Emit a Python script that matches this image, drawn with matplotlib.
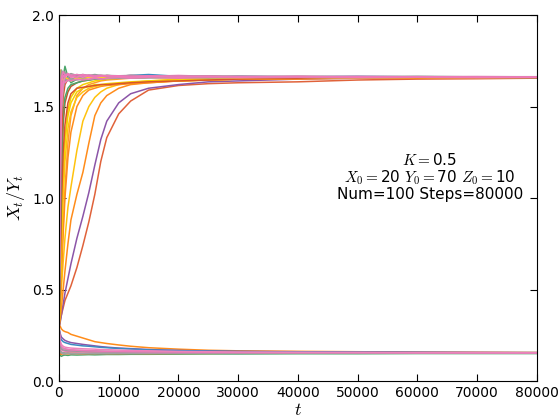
import matplotlib
matplotlib.use("Agg")
import matplotlib.pyplot as plt

plt.rcParams['mathtext.fontset'] = 'cm'

# sample times of the trajectories
T = [0, 200, 400, 700, 1000, 1500, 2000, 3000, 4000, 5000, 6000, 7000, 8000,
     10000, 12000, 15000, 20000, 25000, 30000, 40000, 50000, 60000, 70000, 80000]

# trajectories that go up to ~1.66
up_red = [0.29, 0.33, 0.36, 0.40, 0.44, 0.48, 0.52, 0.62, 0.74, 0.87, 1.02, 1.20, 1.33,
          1.46, 1.53, 1.59, 1.615, 1.625, 1.63, 1.635, 1.645, 1.65, 1.652, 1.655]
up_purple = [0.29, 0.32, 0.36, 0.42, 0.48, 0.56, 0.64, 0.78, 0.90, 1.03, 1.18, 1.32, 1.42,
             1.52, 1.57, 1.60, 1.62, 1.635, 1.64, 1.65, 1.655, 1.66, 1.66, 1.66]
up_orange1 = [0.29, 0.34, 0.40, 0.50, 0.60, 0.75, 0.88, 1.02, 1.14, 1.30, 1.45, 1.52, 1.56,
              1.60, 1.62, 1.63, 1.64, 1.645, 1.65, 1.65, 1.655, 1.655, 1.66, 1.66]
up_gold1 = [0.29, 0.38, 0.50, 0.65, 0.78, 0.95, 1.06, 1.26, 1.42, 1.50, 1.55, 1.58, 1.60,
            1.62, 1.63, 1.64, 1.65, 1.655, 1.66, 1.66, 1.662, 1.66, 1.662, 1.66]
up_orange2 = [0.29, 0.45, 0.62, 0.85, 1.05, 1.30, 1.45, 1.56, 1.60, 1.62, 1.63, 1.64, 1.645,
              1.65, 1.655, 1.66, 1.66, 1.665, 1.66, 1.662, 1.66, 1.662, 1.66, 1.66]
up_orange3 = [0.29, 0.40, 0.58, 0.80, 1.00, 1.22, 1.36, 1.50, 1.56, 1.59, 1.60, 1.61, 1.615,
              1.62, 1.625, 1.63, 1.64, 1.645, 1.65, 1.655, 1.66, 1.66, 1.66, 1.66]
up_gold2 = [0.29, 0.55, 0.80, 1.10, 1.30, 1.48, 1.55, 1.60, 1.62, 1.63, 1.64, 1.645, 1.65,
            1.655, 1.66, 1.66, 1.665, 1.66, 1.662, 1.66, 1.662, 1.66, 1.66, 1.66]
up_gold4 = [0.29, 0.45, 0.70, 1.00, 1.20, 1.38, 1.47, 1.55, 1.58, 1.60, 1.61, 1.615, 1.62,
            1.625, 1.63, 1.635, 1.64, 1.645, 1.65, 1.655, 1.66, 1.66, 1.66, 1.66]
up_yellow = [0.29, 0.50, 0.85, 1.15, 1.32, 1.45, 1.52, 1.58, 1.60, 1.61, 1.62, 1.62, 1.625,
             1.63, 1.635, 1.64, 1.645, 1.65, 1.655, 1.66, 1.66, 1.662, 1.66, 1.66]
up_red3 = [0.29, 0.60, 0.95, 1.25, 1.40, 1.52, 1.57, 1.60, 1.605, 1.61, 1.615, 1.62, 1.62,
           1.625, 1.63, 1.635, 1.64, 1.645, 1.65, 1.655, 1.66, 1.66, 1.66, 1.66]
up_brown = [0.29, 0.70, 1.10, 1.40, 1.52, 1.58, 1.61, 1.63, 1.64, 1.645, 1.65, 1.655, 1.66,
            1.66, 1.665, 1.66, 1.662, 1.665, 1.66, 1.662, 1.66, 1.662, 1.66, 1.66]
up_green2 = [0.29, 0.75, 1.20, 1.45, 1.55, 1.60, 1.62, 1.63, 1.64, 1.645, 1.65, 1.65, 1.655,
             1.655, 1.66, 1.66, 1.66, 1.662, 1.66, 1.662, 1.66, 1.662, 1.66, 1.66]
up_green = [0.29, 1.10, 1.55, 1.66, 1.72, 1.66, 1.63, 1.65, 1.67, 1.66, 1.665, 1.66, 1.67,
            1.665, 1.66, 1.665, 1.66, 1.662, 1.665, 1.66, 1.662, 1.66, 1.662, 1.66]
up_blue = [0.29, 1.00, 1.50, 1.62, 1.66, 1.65, 1.67, 1.66, 1.655, 1.67, 1.66, 1.665, 1.66,
           1.665, 1.67, 1.675, 1.665, 1.66, 1.665, 1.662, 1.665, 1.662, 1.66, 1.662]
up_pink1 = [0.29, 1.35, 1.64, 1.67, 1.66, 1.675, 1.665, 1.66, 1.675, 1.665, 1.66, 1.665, 1.67,
            1.665, 1.66, 1.665, 1.66, 1.665, 1.66, 1.665, 1.66, 1.662, 1.66, 1.66]
up_pink2 = [0.29, 1.20, 1.58, 1.64, 1.63, 1.645, 1.64, 1.65, 1.645, 1.65, 1.655, 1.65, 1.655,
            1.66, 1.655, 1.66, 1.655, 1.66, 1.658, 1.66, 1.658, 1.66, 1.658, 1.66]
up_pink3 = [0.29, 1.10, 1.50, 1.62, 1.67, 1.68, 1.66, 1.67, 1.66, 1.67, 1.665, 1.67, 1.665,
            1.665, 1.67, 1.665, 1.67, 1.665, 1.665, 1.662, 1.665, 1.662, 1.664, 1.662]
up_pink4 = [0.29, 1.50, 1.66, 1.69, 1.67, 1.68, 1.67, 1.675, 1.67, 1.672, 1.668, 1.67, 1.668,
            1.668, 1.666, 1.668, 1.666, 1.665, 1.664, 1.664, 1.663, 1.663, 1.662, 1.662]
up_gray1 = [0.29, 1.45, 1.68, 1.66, 1.68, 1.67, 1.66, 1.675, 1.665, 1.67, 1.665, 1.67, 1.665,
            1.665, 1.67, 1.665, 1.66, 1.665, 1.662, 1.665, 1.662, 1.665, 1.662, 1.662]
up_gray2 = [0.29, 0.90, 1.45, 1.60, 1.64, 1.66, 1.65, 1.66, 1.655, 1.66, 1.66, 1.655, 1.66,
            1.66, 1.655, 1.66, 1.66, 1.658, 1.66, 1.66, 1.658, 1.66, 1.66, 1.658]
up_gray3 = [0.29, 1.55, 1.70, 1.68, 1.69, 1.67, 1.68, 1.67, 1.675, 1.67, 1.675, 1.67, 1.67,
            1.668, 1.67, 1.668, 1.665, 1.667, 1.665, 1.665, 1.664, 1.664, 1.663, 1.663]
up_gray4 = [0.29, 1.25, 1.60, 1.64, 1.65, 1.64, 1.65, 1.645, 1.65, 1.648, 1.652, 1.65, 1.652,
            1.655, 1.655, 1.656, 1.658, 1.658, 1.66, 1.66, 1.66, 1.66, 1.66, 1.66]
up_red2 = [0.29, 0.85, 1.30, 1.55, 1.62, 1.65, 1.67, 1.66, 1.67, 1.665, 1.66, 1.665, 1.66,
           1.665, 1.66, 1.662, 1.665, 1.66, 1.662, 1.66, 1.662, 1.66, 1.66, 1.66]
up_gold3 = [0.29, 1.70, 1.66, 1.64, 1.66, 1.65, 1.64, 1.655, 1.65, 1.66, 1.655, 1.66, 1.655,
            1.66, 1.655, 1.66, 1.655, 1.66, 1.658, 1.66, 1.658, 1.66, 1.658, 1.66]

# trajectories that go down to ~0.155
low_orange = [0.29, 0.30, 0.285, 0.275, 0.27, 0.265, 0.255, 0.245, 0.235, 0.225, 0.215, 0.21,
              0.205, 0.197, 0.19, 0.182, 0.174, 0.168, 0.165, 0.162, 0.16, 0.158, 0.157, 0.156]
low_purple = [0.29, 0.26, 0.24, 0.23, 0.222, 0.215, 0.21, 0.205, 0.2, 0.196, 0.192, 0.188,
              0.185, 0.18, 0.177, 0.172, 0.167, 0.164, 0.162, 0.16, 0.158, 0.157, 0.156, 0.155]
low_blue = [0.29, 0.24, 0.225, 0.215, 0.21, 0.205, 0.2, 0.196, 0.192, 0.19, 0.187, 0.184,
            0.182, 0.178, 0.175, 0.17, 0.166, 0.163, 0.161, 0.159, 0.157, 0.156, 0.155, 0.155]
low_pink1 = [0.29, 0.22, 0.2, 0.19, 0.185, 0.182, 0.18, 0.178, 0.176, 0.175, 0.174, 0.172,
             0.171, 0.169, 0.167, 0.165, 0.162, 0.16, 0.158, 0.157, 0.156, 0.155, 0.155, 0.154]
low_pink3 = [0.29, 0.21, 0.19, 0.18, 0.176, 0.172, 0.17, 0.168, 0.166, 0.165, 0.164, 0.163,
             0.162, 0.161, 0.16, 0.159, 0.158, 0.157, 0.156, 0.155, 0.155, 0.154, 0.154, 0.154]
low_gray1 = [0.29, 0.2, 0.185, 0.178, 0.175, 0.172, 0.17, 0.168, 0.167, 0.166, 0.165, 0.164,
             0.163, 0.162, 0.161, 0.16, 0.158, 0.157, 0.156, 0.155, 0.155, 0.154, 0.154, 0.154]
low_gray3 = [0.29, 0.19, 0.175, 0.17, 0.168, 0.166, 0.165, 0.163, 0.162, 0.161, 0.16, 0.16,
             0.159, 0.158, 0.158, 0.157, 0.156, 0.156, 0.155, 0.155, 0.154, 0.154, 0.154, 0.154]
low_pink2 = [0.29, 0.18, 0.17, 0.165, 0.163, 0.162, 0.161, 0.16, 0.16, 0.159, 0.159, 0.158,
             0.158, 0.157, 0.157, 0.156, 0.155, 0.155, 0.154, 0.154, 0.154, 0.153, 0.153, 0.153]
low_gray2 = [0.29, 0.17, 0.158, 0.155, 0.153, 0.152, 0.152, 0.151, 0.151, 0.151, 0.15, 0.15,
             0.15, 0.15, 0.15, 0.15, 0.151, 0.151, 0.151, 0.152, 0.152, 0.152, 0.152, 0.152]
low_gray4 = [0.29, 0.16, 0.152, 0.15, 0.149, 0.15, 0.149, 0.15, 0.15, 0.15, 0.151, 0.151,
             0.151, 0.152, 0.152, 0.152, 0.153, 0.153, 0.153, 0.153, 0.153, 0.153, 0.153, 0.153]
low_orange2 = [0.29, 0.15, 0.145, 0.155, 0.15, 0.148, 0.152, 0.15, 0.149, 0.15, 0.15, 0.151,
               0.15, 0.15, 0.151, 0.15, 0.151, 0.151, 0.152, 0.152, 0.152, 0.152, 0.153, 0.153]
low_green = [0.29, 0.14, 0.135, 0.14, 0.142, 0.14, 0.143, 0.142, 0.143, 0.144, 0.143, 0.144,
             0.145, 0.145, 0.146, 0.146, 0.147, 0.148, 0.148, 0.149, 0.149, 0.15, 0.15, 0.15]
low_red = [0.29, 0.16, 0.152, 0.148, 0.15, 0.153, 0.15, 0.152, 0.151, 0.152, 0.152, 0.152,
           0.152, 0.153, 0.153, 0.153, 0.153, 0.154, 0.154, 0.154, 0.154, 0.154, 0.154, 0.154]

traces = [
    (up_red, '#e0623a'), (up_purple, '#8b55a8'), (up_orange1, '#ff8c1a'),
    (up_gold1, '#ffc20e'), (up_orange2, '#ff9a2e'), (up_orange3, '#ff8c1a'),
    (up_gold2, '#f5d000'), (up_gold4, '#ffc20e'), (up_yellow, '#f5d000'),
    (up_red3, '#d9532b'), (up_brown, '#c0562a'), (up_green2, '#4aa56a'),
    (up_green, '#4aa56a'), (up_blue, '#3b8bc2'), (up_red2, '#d9532b'),
    (up_gray2, '#9a9a9a'), (up_gold3, '#ffd21f'), (up_gray4, '#a0a0a0'),
    (up_pink2, '#e97ab6'), (up_gray1, '#a0a0a0'), (up_pink3, '#ee82bc'),
    (up_gray3, '#9a9a9a'), (up_pink4, '#ea79b8'), (up_pink1, '#f07ab8'),
    (low_orange, '#ff8c1a'), (low_purple, '#8b55a8'), (low_blue, '#3b8bc2'),
    (low_green, '#4aa56a'), (low_red, '#e0623a'), (low_orange2, '#ff8c1a'),
    (low_gray2, '#9a9a9a'), (low_gray4, '#a0a0a0'), (low_pink2, '#e97ab6'),
    (low_gray3, '#9a9a9a'), (low_gray1, '#a0a0a0'), (low_pink3, '#ea79b8'),
    (low_pink1, '#ee82bc'),
]

fig = plt.figure(figsize=(5.59, 4.18), dpi=100)
ax = fig.add_axes([0.1055, 0.0885, 0.855, 0.8755])
for vals, col in traces:
    ax.plot(T, vals, color=col, lw=1.1)

ax.set_xlim(0, 80000)
ax.set_ylim(0, 2.0)
ax.set_xticks(range(0, 80001, 10000))
ax.set_yticks([0.0, 0.5, 1.0, 1.5, 2.0])
ax.tick_params(direction='in', top=True, right=True, labelsize=10, length=5)
ax.set_xlabel(r'$t$', fontsize=13, labelpad=1)
ax.set_ylabel(r'$X_t/Y_t$', fontsize=13, labelpad=4)

ax.text(62100, 1.115, '$K=$0.5\n$X_0=$20 $Y_0=$70 $Z_0=$10\nNum=100 Steps=80000',
        ha='center', va='center', fontsize=11, linespacing=1.0)

fig.savefig('out.png', dpi=100)
